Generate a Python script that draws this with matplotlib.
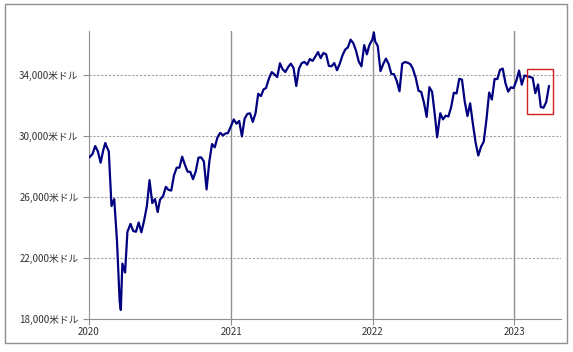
import matplotlib.pyplot as plt
import matplotlib.dates as mdates
from matplotlib.patches import Rectangle
import pandas as pd

plt.rcParams['font.family'] = ['Noto Sans CJK JP', 'DejaVu Sans']

# weekly closes (approx.), plus a few intra-week extremes
dates = ['2020-01-03', '2020-01-10', '2020-01-17', '2020-01-24', '2020-01-31', '2020-02-07',
         '2020-02-12', '2020-02-14', '2020-02-21', '2020-02-28', '2020-03-06', '2020-03-13',
         '2020-03-20', '2020-03-23', '2020-03-27', '2020-04-03', '2020-04-09', '2020-04-17',
         '2020-04-24', '2020-05-01', '2020-05-08', '2020-05-15', '2020-05-22', '2020-05-29',
         '2020-06-05', '2020-06-12', '2020-06-19', '2020-06-26', '2020-07-02', '2020-07-10',
         '2020-07-17', '2020-07-24', '2020-07-31', '2020-08-07', '2020-08-14', '2020-08-21',
         '2020-08-28', '2020-09-04', '2020-09-11', '2020-09-18', '2020-09-25', '2020-10-02',
         '2020-10-09', '2020-10-16', '2020-10-23', '2020-10-30', '2020-11-06', '2020-11-13',
         '2020-11-20', '2020-11-27', '2020-12-04', '2020-12-11', '2020-12-18', '2020-12-24',
         '2020-12-31',
         '2021-01-08', '2021-01-15', '2021-01-22', '2021-01-29', '2021-02-05', '2021-02-12',
         '2021-02-19', '2021-02-26', '2021-03-05', '2021-03-12', '2021-03-19', '2021-03-26',
         '2021-04-01', '2021-04-09', '2021-04-16', '2021-04-23', '2021-04-30', '2021-05-07',
         '2021-05-14', '2021-05-21', '2021-05-28', '2021-06-04', '2021-06-11', '2021-06-18',
         '2021-06-25', '2021-07-02', '2021-07-09', '2021-07-16', '2021-07-23', '2021-07-30',
         '2021-08-06', '2021-08-13', '2021-08-20', '2021-08-27', '2021-09-03', '2021-09-10',
         '2021-09-17', '2021-09-24', '2021-10-01', '2021-10-08', '2021-10-15', '2021-10-22',
         '2021-10-29', '2021-11-05', '2021-11-12', '2021-11-19', '2021-11-26', '2021-12-03',
         '2021-12-10', '2021-12-17', '2021-12-23', '2021-12-31',
         '2022-01-04', '2022-01-07', '2022-01-14', '2022-01-21', '2022-01-28', '2022-02-04',
         '2022-02-11', '2022-02-18', '2022-02-25', '2022-03-04', '2022-03-11', '2022-03-18',
         '2022-03-25', '2022-04-01', '2022-04-08', '2022-04-14', '2022-04-22', '2022-04-29',
         '2022-05-06', '2022-05-13', '2022-05-20', '2022-05-27', '2022-06-03', '2022-06-10',
         '2022-06-16', '2022-06-24', '2022-07-01', '2022-07-08', '2022-07-15', '2022-07-22',
         '2022-07-29', '2022-08-05', '2022-08-12', '2022-08-19', '2022-08-26', '2022-09-02',
         '2022-09-09', '2022-09-16', '2022-09-23', '2022-09-30', '2022-10-07', '2022-10-14',
         '2022-10-21', '2022-10-28', '2022-11-04', '2022-11-11', '2022-11-18', '2022-11-25',
         '2022-12-02', '2022-12-09', '2022-12-16', '2022-12-23', '2022-12-30',
         '2023-01-06', '2023-01-13', '2023-01-20', '2023-01-27', '2023-02-03', '2023-02-10',
         '2023-02-17', '2023-02-24', '2023-03-03', '2023-03-10', '2023-03-17', '2023-03-24',
         '2023-03-31']
dow = [28634, 28824, 29348, 28990, 28256, 29103,
       29551, 29398, 28992, 25409, 25864, 23186,
       19174, 18591, 21637, 21053, 23719, 24242,
       23775, 23724, 24331, 23685, 24465, 25383,
       27111, 25605, 25871, 25016, 25827, 26075,
       26672, 26470, 26428, 27433, 27931, 27930,
       28654, 28133, 27666, 27657, 27174, 27683,
       28587, 28606, 28335, 26502, 28323, 29480,
       29263, 29910, 30218, 30046, 30179, 30200,
       30606,
       31098, 30814, 30997, 29983, 31148, 31458,
       31494, 30932, 31496, 32779, 32628, 33073,
       33153, 33801, 34200, 34043, 33875, 34778,
       34382, 34208, 34529, 34756, 34480, 33290,
       34433, 34786, 34870, 34688, 35062, 34935,
       35209, 35515, 35120, 35455, 35369, 34607,
       34584, 34798, 34326, 34746, 35295, 35677,
       35820, 36328, 36100, 35602, 34899, 34580,
       35971, 35365, 35950, 36338,
       36799, 36231, 35912, 34265, 34725, 35089,
       34738, 34079, 34059, 33614, 32944, 34754,
       34861, 34818, 34721, 34451, 33811, 32977,
       32899, 32197, 31262, 33213, 32900, 31393,
       29927, 31501, 31097, 31338, 31288, 31899,
       32845, 32803, 33761, 33706, 32283, 31318,
       32151, 30822, 29590, 28725, 29297, 29634,
       31083, 32861, 32403, 33748, 33746, 34347,
       34430, 33476, 32920, 33204, 33147,
       33631, 34303, 33375, 33978, 33926, 33869,
       33827, 32817, 33391, 31910, 31862, 32238,
       33274]

yticks = [18000, 22000, 26000, 30000, 34000]
years = ['2020', '2021', '2022', '2023']
box = ('2023-02-03', '2023-04-10', 31440, 34390)

x = pd.to_datetime(dates)
year_dates = pd.to_datetime([y + '-01-01' for y in years])

fig = plt.figure(figsize=(5.73, 3.52), dpi=100)
ax = fig.add_axes([0.1553, 0.0938, 0.8237, 0.8182])

for yv in yticks[1:]:
    ax.axhline(yv, color='#a0a0a0', lw=0.8, ls=(0, (2, 1.5)), zorder=1)
for d in year_dates[1:]:
    ax.axvline(d, color='#909090', lw=1.0, zorder=1)

ax.plot(x, dow, color='#000080', lw=1.6, zorder=3)

b0, b1 = pd.to_datetime(box[0]), pd.to_datetime(box[1])
ax.add_patch(Rectangle((mdates.date2num(b0), box[2]),
                       mdates.date2num(b1) - mdates.date2num(b0), box[3] - box[2],
                       fill=False, ec='#d02020', lw=1.0, zorder=4))

ax.set_ylim(18000, 36900)
ax.set_xlim(pd.Timestamp('2020-01-01'), pd.Timestamp('2023-05-01'))
ax.set_yticks(yticks)
ax.set_yticklabels([f'{v:,}米ドル' for v in yticks])
ax.set_xticks(year_dates)
ax.set_xticklabels(years)
ax.tick_params(axis='both', colors='#909090', labelcolor='#333333', labelsize=7, length=4)
ax.tick_params(axis='x', pad=1.5)

for s in ['top', 'right']:
    ax.spines[s].set_visible(False)
for s in ['left', 'bottom']:
    ax.spines[s].set_color('#909090')

fig.add_artist(Rectangle((5 / 573, 1 - 343 / 352), 562 / 573, 339 / 352,
                         transform=fig.transFigure, fill=False, ec='#909090', lw=1.0))

fig.savefig('out.png', dpi=100)
